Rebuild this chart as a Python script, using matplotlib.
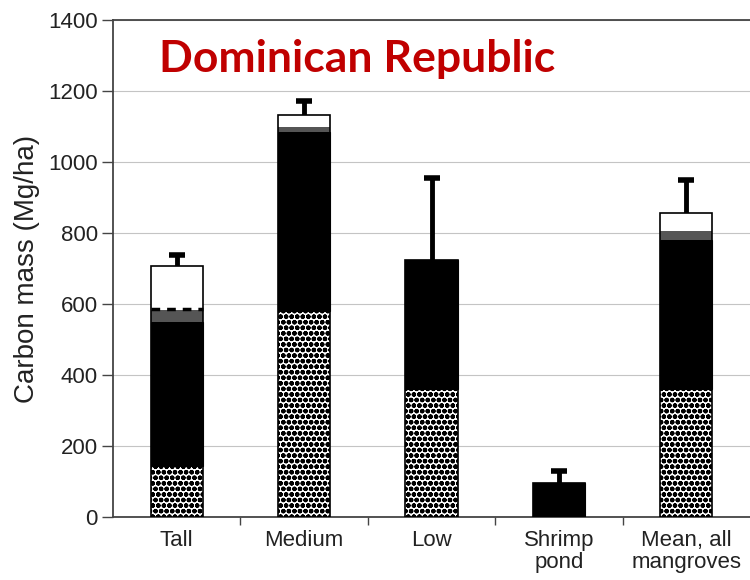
import numpy as np
import matplotlib.pyplot as plt
from matplotlib.transforms import blended_transform_factory

plt.rcParams['font.family'] = ['Liberation Sans', 'DejaVu Sans']
plt.rcParams['hatch.linewidth'] = 1.6

sites = ["Tall", "Medium", "Low", "Shrimp\npond", "Mean, all\nmangroves"]
soil = [145, 580, 360, 0, 360]
belowground = [405, 505, 365, 95, 420]
downed_wood = [32, 15, 0, 0, 25]
litter = [10, 0, 0, 0, 0]
trees = [115, 32, 0, 0, 50]
err_up = [30, 40, 230, 35, 95]

fig = plt.figure(figsize=(7.5, 5.8), dpi=100)
ax = fig.add_axes([0.1507, 0.1086, 0.8493, 0.8569])

x = np.arange(len(sites))
w = 0.41
bottom = np.zeros(len(sites))

ax.bar(x, soil, w, bottom=bottom, color='white', edgecolor='black',
       hatch='ooo', linewidth=0, zorder=3)
bottom += soil
ax.bar(x, belowground, w, bottom=bottom, color='black', edgecolor='black',
       linewidth=0.8, zorder=3)
bottom += belowground
ax.bar(x, downed_wood, w, bottom=bottom, color='#555555', edgecolor='none',
       linewidth=0, zorder=3)
bottom += downed_wood
ax.bar(x, litter, w, bottom=bottom, color='white', edgecolor='none',
       linewidth=0, zorder=3)
# dashed band for the litter layer
for xi, b, h in zip(x, bottom, litter):
    if h > 0:
        ax.hlines(b + h / 2, xi - w / 2, xi + w / 2, colors='black',
                  linewidth=2.5, linestyles=(0, (2.5, 2)), zorder=4)
bottom += litter
ax.bar(x, trees, w, bottom=bottom, color='white', edgecolor='none',
       linewidth=0, zorder=3)
bottom += trees

# outline around the full stack
ax.bar(x, bottom, w, color='none', edgecolor='black', linewidth=1.2, zorder=5)

# upper error bars only
tops = bottom + np.array(err_up)
ax.vlines(x, bottom, tops, colors='black', linewidth=3.5, zorder=2)
ax.plot(x, tops, linestyle='none', marker='_', markersize=11,
        markeredgewidth=4, color='black', zorder=2)

ax.set_xlim(-0.5, len(sites) - 0.5)
ax.set_ylim(0, 1400)
ax.set_yticks(np.arange(0, 1401, 200))
ax.set_xticks(np.arange(0.5, len(sites) - 0.5))
ax.set_xticklabels([])
ax.set_xticks(x, minor=True)
ax.set_xticklabels(sites, minor=True, fontsize=16, color='#222222',
                   linespacing=1.1)
ax.tick_params(axis='x', which='minor', length=0, pad=9)
ax.tick_params(axis='x', which='major', length=6, width=1, color='#444444',
               direction='out')
ax.tick_params(axis='y', length=8, width=1, color='#444444', labelsize=16,
               labelcolor='#222222', pad=3)

ax.yaxis.grid(True, color='#c4c4c4', linewidth=0.8)
ax.set_axisbelow(True)

for side in ['left', 'bottom', 'top']:
    ax.spines[side].set_color('#444444')
    ax.spines[side].set_linewidth(1.3)
ax.spines['right'].set_visible(False)

ax.set_ylabel("Carbon mass (Mg/ha)", fontsize=20, color='#222222', labelpad=6)

ax.text(0.383, 1290, "Dominican Republic", ha='center', va='center',
        fontsize=32, fontweight='bold', color='#c00000', family='Lato',
        transform=blended_transform_factory(ax.transAxes, ax.transData))

fig.savefig("out.png", dpi=100)
